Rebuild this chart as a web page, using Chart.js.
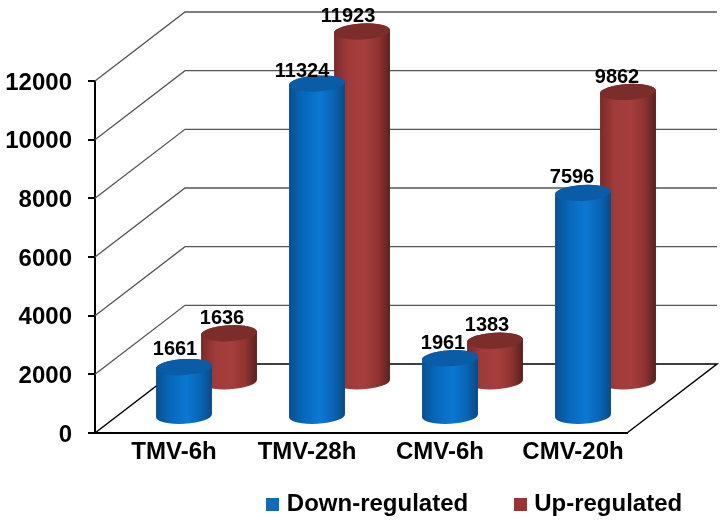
<!DOCTYPE html>
<html>
<head>
<meta charset="utf-8">
<style>
  html, body { margin: 0; background: #fff; }
</style>
<script src="https://cdn.jsdelivr.net/npm/chart.js@4"></script>
</head>
<body>
<canvas id="myChart" width="727" height="523"></canvas>
<script>
const categories = ['TMV-6h', 'TMV-28h', 'CMV-6h', 'CMV-20h'];
const downRegulated = [1661, 11324, 1961, 7596];
const upRegulated = [1636, 11923, 1383, 9862];
const yTicks = [0, 2000, 4000, 6000, 8000, 10000, 12000];

// depth of the fake 3D box
const depthX = 90;
const depthY = 69;
const rows = [0.25, 0.75];

const styles = [
  { stops: ['#0a4f8e', '#0668bb', '#0b78d2', '#0864b4', '#0a4a85'], top: '#0a5ca6' },
  { stops: ['#7b2a2a', '#a03b39', '#a63e3c', '#8e3331', '#5a1f1f'], top: '#7a2d2b' }
];

// label nudges from the cylinder top [dataset][category]
const labelShift = [
  [[-9, -18], [-15, -12], [-7, -15], [-11, -15]],
  [[-7, -15], [-14, -15], [-8, -15], [-11, -14]]
];

// legend swatch, a canvas so it can sit closer to its text
function swatch(color) {
  const c = document.createElement('canvas');
  c.width = 13;
  c.height = 13;
  const g = c.getContext('2d');
  g.fillStyle = color;
  g.fillRect(0, 0, 13, 13);
  return c;
}

function cylinder(ctx, cx, base, top, style) {
  const rx = 28, ry = 8, tilt = -0.055;
  const grad = ctx.createLinearGradient(cx - rx, 0, cx + rx, 0);
  style.stops.forEach((c, i) => grad.addColorStop([0, 0.25, 0.55, 0.8, 1][i], c));
  ctx.beginPath();
  ctx.ellipse(cx, base, rx, ry, tilt, 0, Math.PI);
  ctx.ellipse(cx, top, rx, ry, tilt, Math.PI, Math.PI * 2);
  ctx.closePath();
  ctx.fillStyle = grad;
  ctx.fill();
  ctx.beginPath();
  ctx.ellipse(cx, top, rx, ry, tilt, 0, Math.PI * 2);
  ctx.fillStyle = style.top;
  ctx.fill();
}

const box3d = {
  id: 'box3d',
  afterLayout(chart) {
    // legend sits off to the right in the original
    const lg = chart.legend;
    lg.left += 163;
    lg.right += 163;
    lg.top -= 31;
    lg.bottom -= 31;
  },
  beforeDatasetsDraw(chart) {
    const { ctx, scales: { x, y }, chartArea: a } = chart;
    ctx.save();
    // walls
    ctx.strokeStyle = '#555';
    ctx.lineWidth = 1.3;
    yTicks.slice(1).forEach(t => {
      const py = y.getPixelForValue(t);
      ctx.beginPath();
      ctx.moveTo(a.left, py);
      ctx.lineTo(a.left + depthX, py - depthY);
      ctx.lineTo(a.right + depthX, py - depthY);
      ctx.stroke();
    });
    // floor
    const by = y.getPixelForValue(0);
    ctx.strokeStyle = '#000';
    ctx.lineWidth = 1.5;
    ctx.beginPath();
    ctx.moveTo(a.left, by);
    ctx.lineTo(a.left + depthX, by - depthY);
    ctx.lineTo(a.right + depthX, by - depthY);
    ctx.lineTo(a.right, by);
    ctx.stroke();
    // back row first so the front row covers it
    for (let d = chart.data.datasets.length - 1; d >= 0; d--) {
      chart.data.datasets[d].data.forEach((v, i) => {
        const cx = x.getPixelForValue(i) + depthX * rows[d];
        const lift = depthY * rows[d];
        cylinder(ctx, cx, by - lift, y.getPixelForValue(v) - lift, styles[d]);
      });
    }
    ctx.restore();
  },
  beforeDatasetDraw() {
    return false; // native flat bars replaced by cylinders
  },
  afterDatasetsDraw(chart) {
    const { ctx, scales: { x, y } } = chart;
    ctx.save();
    ctx.font = 'bold 20px "Liberation Sans", Arial, sans-serif';
    ctx.fillStyle = '#000';
    ctx.textAlign = 'center';
    ctx.textBaseline = 'middle';
    chart.data.datasets.forEach((ds, d) => {
      ds.data.forEach((v, i) => {
        const cx = x.getPixelForValue(i) + depthX * rows[d];
        const top = y.getPixelForValue(v) - depthY * rows[d];
        ctx.fillText(v, cx + labelShift[d][i][0], top + labelShift[d][i][1]);
      });
    });
    ctx.restore();
  }
};

const font = { family: '"Liberation Sans", Arial, sans-serif', size: 24, weight: 'bold' };

new Chart(document.getElementById('myChart'), {
  type: 'bar',
  data: {
    labels: categories,
    datasets: [
      { label: 'Down-regulated', data: downRegulated, backgroundColor: '#0a6ebd', pointStyle: swatch('#0a6ebd') },
      { label: 'Up-regulated', data: upRegulated, backgroundColor: '#9b3533', pointStyle: swatch('#9b3533') }
    ]
  },
  options: {
    responsive: false,
    animation: false,
    layout: { padding: { top: 81, right: 100, left: 0, bottom: -34 } },
    plugins: {
      tooltip: { enabled: false },
      legend: {
        position: 'bottom',
        labels: { usePointStyle: true, pointStyleWidth: 4, boxHeight: 14, padding: 50, color: '#000', font }
      }
    },
    scales: {
      x: {
        grid: { display: false },
        border: { color: '#000', width: 2 },
        ticks: { color: '#000', font: { ...font, lineHeight: 0.8 }, labelOffset: 12.5, padding: 2, maxRotation: 0 },
        afterFit(s) { s.height = 40; }
      },
      y: {
        min: 0,
        max: 12000,
        grid: { drawOnChartArea: false, color: '#000', lineWidth: 2, tickLength: 7 },
        border: { color: '#000', width: 2 },
        ticks: { color: '#000', font, stepSize: 2000, padding: 16, labelOffset: 2, callback: v => v },
        afterFit(s) { s.width = 95; }
      }
    }
  },
  plugins: [box3d]
});
</script>
</body>
</html>
